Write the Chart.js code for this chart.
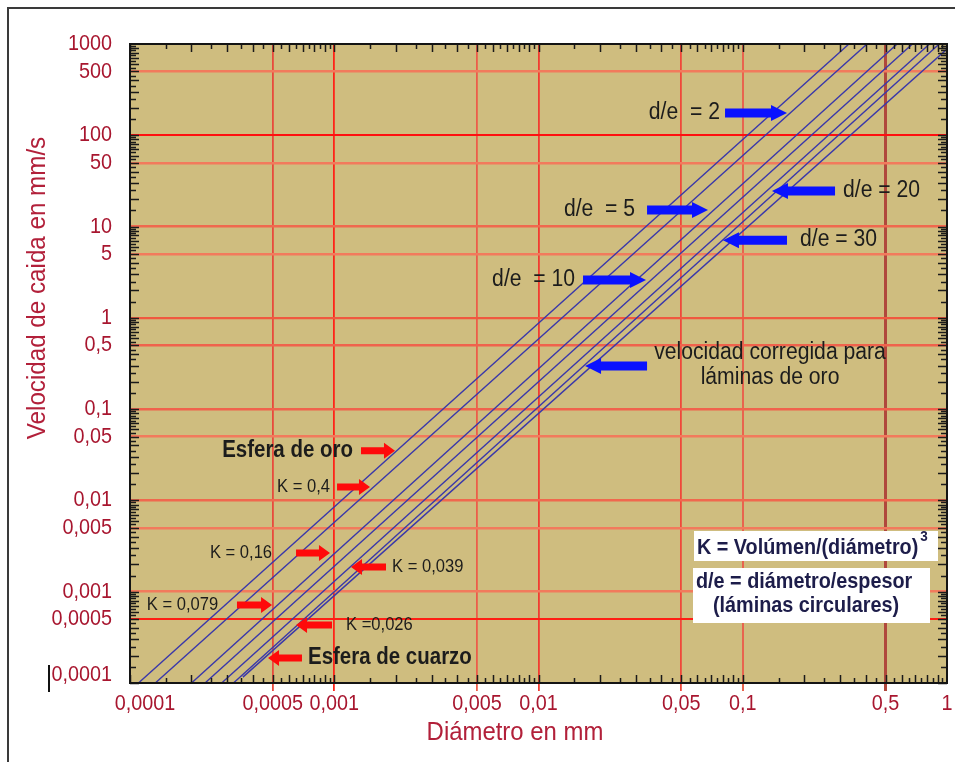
<!DOCTYPE html>
<html lang="es">
<head>
<meta charset="utf-8">
<title>Velocidad de caida vs diámetro</title>
<script src="https://cdn.jsdelivr.net/npm/chart.js@4.4.1/dist/chart.umd.min.js"></script>
<style>
  html, body { margin: 0; padding: 0; background: #fff; }
  canvas { display: block; }
</style>
</head>
<body>
<canvas id="chart" width="955" height="762"></canvas>
<script>
// --- Data (diámetro en mm, velocidad en mm/s) ---
const seriesNames = ['Esfera de oro', 'K = 0,4 (d/e = 2)', 'K = 0,16 (d/e = 5)', 'K = 0,079 (d/e = 10)',
    'K = 0,039 (d/e = 20)', 'K = 0,026 (d/e = 30)', 'Esfera de cuarzo'];
const startDiameter = [0.00011, 0.000133, 0.0002, 0.000233, 0.000281, 0.000321, 0.000357];
const startVelocity = [0.0001, 0.0001, 0.0001, 0.0001, 0.0001, 0.0001, 0.000116];
const endDiameter = [0.331, 0.406, 0.570, 0.677, 0.821, 0.916, 1];
const endVelocity = [1000, 1000, 1000, 1000, 1000, 1000, 880];

const xTickValues = [0.0001, 0.0005, 0.001, 0.005, 0.01, 0.05, 0.1, 0.5, 1];
const xTickLabels = ['0,0001', '0,0005', '0,001', '0,005', '0,01', '0,05', '0,1', '0,5', '1'];
const yTickValues = [0.0001, 0.0005, 0.001, 0.005, 0.01, 0.05, 0.1, 0.5, 1, 5, 10, 50, 100, 500, 1000];
const yTickLabels = ['0,0001', '0,0005', '0,001', '0,005', '0,01', '0,05', '0,1', '0,5', '1', '5', '10', '50', '100', '500', '1000'];

// --- Styles ---
const FONT = '"Liberation Sans", Arial, Helvetica, sans-serif';
const LABEL_RED = '#a8162f';
const TITLE_RED = '#b2203a';
const PLOT_BG = '#cfbd7f';
const LINE_BLUE = '#3a38aa';
const SQUEEZE = 0.9; // the reference text is a bit narrower than Arial
const xGridColors = ['transparent', '#e84a3c', '#ff2418', '#ec5d4a', '#f23c30', '#f0483a', '#e8644e', '#b0483c', 'transparent'];
const xGridWidths = [0, 1.8, 1.8, 1.8, 1.8, 1.8, 2, 3, 0];
const yGridColors = ['transparent', '#ff1e14', '#f27a5c', '#f27a5c', '#f0684e', '#f27a5c', '#f0624c', '#f0624c',
    '#f0583f', '#f27a5c', '#f0684e', '#f27a5c', '#ff1010', '#f27a5c', 'transparent'];
const yGridWidths = [0, 2, 2.5, 2.5, 2.5, 2.5, 2.5, 2.5, 2.2, 2.5, 2.5, 2.5, 2, 2.5, 0];

// Annotations, placed in data units (diámetro, velocidad)
const notes = [
    { text: 'd/e  = 2', tx: 0.0774, align: 'right', v: 175, tail: 0.0819, head: 0.1647, color: 'blue' },
    { text: 'd/e  = 5', tx: 0.0297, align: 'right', v: 15.2, tail: 0.034, head: 0.0676, color: 'blue' },
    { text: 'd/e  = 10', tx: 0.0151, align: 'right', v: 2.6, tail: 0.01652, head: 0.0336, color: 'blue' },
    { text: 'd/e = 20', tx: 0.3097, align: 'left', v: 24.5, tail: 0.283, head: 0.139, color: 'blue' },
    { text: 'd/e = 30', tx: 0.1907, align: 'left', v: 7.1, tail: 0.1647, head: 0.080, color: 'blue' },
    { text: 'Esfera de oro', tx: 0.001235, align: 'right', v: 0.035, tail: 0.001352, head: 0.001983, color: 'red', bold: true },
    { text: 'K = 0,4', tx: 0.000953, align: 'right', v: 0.014, tail: 0.001032, head: 0.001496, color: 'red', small: true },
    { text: 'K = 0,16', tx: 0.000496, align: 'right', v: 0.00266, tail: 0.00065, head: 0.000953, color: 'red', small: true },
    { text: 'K = 0,039', tx: 0.001918, align: 'left', v: 0.00187, tail: 0.001792, head: 0.001208, color: 'red', small: true },
    { text: 'K = 0,079', tx: 0.00027, align: 'right', v: 0.000715, tail: 0.000334, head: 0.000496, color: 'red', small: true },
    { text: 'K =0,026', tx: 0.001142, align: 'left', v: 0.000432, tail: 0.000975, head: 0.00065, color: 'red', small: true },
    { text: 'Esfera de cuarzo', tx: 0.000744, align: 'left', v: 0.000188, tail: 0.000695, head: 0.000474, color: 'red', bold: true }
];
const correctedNote = { lines: ['velocidad corregida para', 'láminas de oro'], tx: 0.136, ty: [0.412, 0.219], v: 0.297, tail: 0.034, head: 0.0169 };

// --- Helper Functions ---

/**
 * Writes text slightly condensed horizontally, like the reference lettering.
 */
function squeezedText(ctx, text, x, y, align, sx = SQUEEZE) {
    ctx.save();
    ctx.translate(x, y);
    ctx.scale(sx, 1);
    ctx.textAlign = align;
    ctx.fillText(text, 0, 0);
    ctx.restore();
}

function drawArrow(ctx, x1, x2, y, color) {
    const isBlue = color === 'blue';
    const shaft = isBlue ? 9 : 7;
    const headH = 16;
    const headL = isBlue ? 16 : 11;
    const dir = x2 > x1 ? 1 : -1;
    const xb = x2 - dir * headL;
    ctx.fillStyle = isBlue ? '#0a12ff' : '#ff0a0a';
    ctx.beginPath();
    ctx.moveTo(x1, y - shaft / 2);
    ctx.lineTo(xb, y - shaft / 2);
    ctx.lineTo(xb, y - headH / 2);
    ctx.lineTo(x2, y);
    ctx.lineTo(xb, y + headH / 2);
    ctx.lineTo(xb, y + shaft / 2);
    ctx.lineTo(x1, y + shaft / 2);
    ctx.closePath();
    ctx.fill();
}

function drawMinorTicks(ctx, area, xs, ys) {
    ctx.strokeStyle = '#1a1a1a';
    ctx.lineWidth = 1.5;
    ctx.beginPath();
    for (let e = -4; e < 0; e++) {
        for (let n = 1; n < 10; n += 0.5) {
            const px = Math.round(xs.getPixelForValue(n * Math.pow(10, e))) + 0.5;
            const len = Number.isInteger(n) ? 8 : 5;
            ctx.moveTo(px, area.bottom); ctx.lineTo(px, area.bottom - len);
            ctx.moveTo(px, area.top); ctx.lineTo(px, area.top + len);
        }
    }
    for (let e = -4; e < 3; e++) {
        for (let n = 1; n < 10; n += 0.5) {
            const py = Math.round(ys.getPixelForValue(n * Math.pow(10, e))) + 0.5;
            const len = Number.isInteger(n) ? 9 : 6;
            ctx.moveTo(area.left, py); ctx.lineTo(area.left + len, py);
            ctx.moveTo(area.right, py); ctx.lineTo(area.right - len, py);
        }
    }
    ctx.stroke();
}

function drawTickLabels(ctx, area, xs, ys) {
    ctx.fillStyle = LABEL_RED;
    ctx.font = `22px ${FONT}`;
    ctx.textBaseline = 'middle';
    xTickValues.forEach((v, i) => {
        const shift = i === 0 ? 15 : 0; // first label sits clear of the y labels
        squeezedText(ctx, xTickLabels[i], xs.getPixelForValue(v) + shift, area.bottom + 21, 'center');
    });
    yTickValues.forEach((v, i) => {
        const lift = i === 0 ? -8 : 0;
        squeezedText(ctx, yTickLabels[i], area.left - 18, ys.getPixelForValue(v) + lift, 'right');
    });
}

function drawTitles(ctx, area) {
    ctx.fillStyle = TITLE_RED;
    ctx.font = `26px ${FONT}`;
    ctx.textBaseline = 'middle';
    squeezedText(ctx, 'Diámetro en mm', area.left + 385, area.bottom + 50, 'center', 0.92);
    ctx.save();
    ctx.translate(38, area.top + 244);
    ctx.rotate(-Math.PI / 2);
    squeezedText(ctx, 'Velocidad de caida en mm/s', 0, 0, 'center', 0.93);
    ctx.restore();
}

function drawNotes(ctx, xs, ys) {
    ctx.textBaseline = 'middle';
    notes.forEach(n => {
        const y = ys.getPixelForValue(n.v);
        ctx.fillStyle = '#1c1c1c';
        ctx.font = n.bold ? `bold 23px ${FONT}` : (n.small ? `18px ${FONT}` : `23px ${FONT}`);
        squeezedText(ctx, n.text, xs.getPixelForValue(n.tx), y, n.align, n.bold ? 0.89 : 0.92);
        drawArrow(ctx, xs.getPixelForValue(n.tail), xs.getPixelForValue(n.head), y, n.color);
    });
    ctx.fillStyle = '#1c1c1c';
    ctx.font = `23px ${FONT}`;
    correctedNote.lines.forEach((line, i) => {
        squeezedText(ctx, line, xs.getPixelForValue(correctedNote.tx), ys.getPixelForValue(correctedNote.ty[i]), 'center', 0.92);
    });
    drawArrow(ctx, xs.getPixelForValue(correctedNote.tail), xs.getPixelForValue(correctedNote.head),
        ys.getPixelForValue(correctedNote.v), 'blue');
}

function drawKeyBoxes(ctx, area) {
    const ink = '#1d1d4a';
    ctx.fillStyle = '#fff';
    ctx.fillRect(area.right - 253, area.bottom - 152, 244, 30);
    ctx.fillRect(area.right - 254, area.bottom - 115, 237, 55);
    ctx.fillStyle = ink;
    ctx.textBaseline = 'middle';
    ctx.font = `bold 22px ${FONT}`;
    const k = 'K = Volúmen/(diámetro)';
    squeezedText(ctx, k, area.right - 250, area.bottom - 135, 'left');
    const kw = ctx.measureText(k).width * SQUEEZE;
    ctx.font = `bold 15px ${FONT}`;
    squeezedText(ctx, '3', area.right - 248 + kw, area.bottom - 146, 'left');
    ctx.font = `bold 22px ${FONT}`;
    squeezedText(ctx, 'd/e = diámetro/espesor', area.right - 251, area.bottom - 101, 'left');
    squeezedText(ctx, '(láminas circulares)', area.right - 141, area.bottom - 77, 'center');
}

// --- Plugin for background, frame, ticks and annotations ---
const decorations = {
    id: 'decorations',
    beforeDraw(chart) {
        const { ctx, chartArea: a } = chart;
        ctx.save();
        ctx.fillStyle = PLOT_BG;
        ctx.fillRect(a.left, a.top, a.width, a.height);
        ctx.restore();
    },
    afterDraw(chart) {
        const { ctx, chartArea: a } = chart;
        const xs = chart.scales.x;
        const ys = chart.scales.y;
        ctx.save();
        drawNotes(ctx, xs, ys);
        drawKeyBoxes(ctx, a);
        drawMinorTicks(ctx, a, xs, ys);
        ctx.strokeStyle = '#141414';
        ctx.lineWidth = 2;
        ctx.strokeRect(a.left, a.top, a.width, a.height);
        drawTickLabels(ctx, a, xs, ys);
        drawTitles(ctx, a);
        // outer page frame
        ctx.fillStyle = '#3a3a3a';
        ctx.fillRect(7, 7, 2, chart.height - 7);
        ctx.fillRect(7, 7, chart.width - 7, 2);
        ctx.fillStyle = '#111';
        ctx.fillRect(48, 665, 2, 27);
        ctx.restore();
    }
};

// --- Chart ---
const datasets = seriesNames.map((name, i) => ({
    label: name,
    data: [{ x: startDiameter[i], y: startVelocity[i] }, { x: endDiameter[i], y: endVelocity[i] }],
    showLine: true,
    borderColor: LINE_BLUE,
    borderWidth: 1.4,
    pointRadius: 0,
    fill: false
}));

new Chart(document.getElementById('chart'), {
    type: 'scatter',
    data: { datasets },
    options: {
        responsive: false,
        animation: false,
        devicePixelRatio: 1,
        layout: { padding: { top: 44, right: 8, left: 0, bottom: 0 } },
        plugins: { legend: { display: false }, tooltip: { enabled: false } },
        scales: {
            x: {
                type: 'logarithmic',
                min: 0.0001,
                max: 1,
                afterBuildTicks: s => { s.ticks = xTickValues.map(v => ({ value: v })); },
                afterFit: s => { s.height = 79; },
                ticks: { display: false },
                border: { display: false },
                grid: {
                    color: c => c.tick ? xGridColors[xTickValues.indexOf(c.tick.value)] : 'transparent',
                    tickColor: c => c.tick ? xGridColors[xTickValues.indexOf(c.tick.value)] : 'transparent',
                    lineWidth: c => c.tick ? xGridWidths[xTickValues.indexOf(c.tick.value)] : 0,
                    drawTicks: true,
                    tickLength: 8
                }
            },
            y: {
                type: 'logarithmic',
                min: 0.0001,
                max: 1000,
                afterBuildTicks: s => { s.ticks = yTickValues.map(v => ({ value: v })); },
                afterFit: s => { s.width = 130; },
                ticks: { display: false },
                border: { display: false },
                grid: {
                    color: c => c.tick ? yGridColors[yTickValues.indexOf(c.tick.value)] : 'transparent',
                    lineWidth: c => c.tick ? yGridWidths[yTickValues.indexOf(c.tick.value)] : 0,
                    drawTicks: false
                }
            }
        }
    },
    plugins: [decorations]
});
</script>
</body>
</html>
